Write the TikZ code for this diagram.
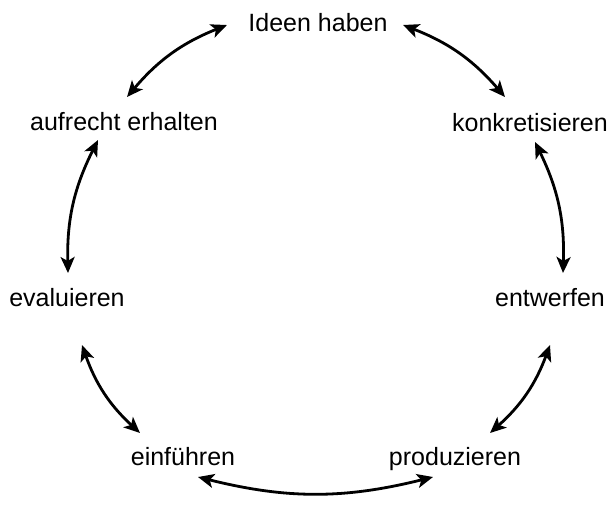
\documentclass[tikz,border=0pt]{standalone}
\usepackage{fontspec}
\setmainfont{Liberation Sans}
\usetikzlibrary{arrows.meta,calc}
\begin{document}
\begin{tikzpicture}[x=1pt,y=-1pt,
  lbl/.style={anchor=base,inner sep=0pt,font=\fontsize{25}{30}\selectfont},
  tipx/.tip={Stealth[length=16pt,width=14pt,inset=4pt]},
  arr/.style={line width=2.8pt,tipx-tipx,bend left=14}]
\useasboundingbox (0,0) rectangle (612,506);
\node[lbl] (ideen) at (318,31) {Ideen haben};
\node[lbl] (konk) at (530,131) {konkretisieren};
\node[lbl] (entw) at (550,306.5) {entwerfen};
\node[lbl] (prod) at (455,465) {produzieren};
\node[lbl] (einf) at (183,465) {einführen};
\node[lbl] (eval) at (67,306) {evaluieren};
\node[lbl] (aufr) at (124,130.5) {aufrecht erhalten};
\draw[arr] ($(ideen.base)+(85,-6)$) to ($(konk.base)+(-25,-34)$);
\draw[arr] ($(konk.base)+(5,11)$) to ($(entw.base)+(13,-33.5)$);
\draw[arr] ($(entw.base)+(0,38.5)$) to ($(prod.base)+(35,-32)$);
\draw[arr] ($(prod.base)+(-22,12)$) to ($(einf.base)+(15,12)$);
\draw[arr] ($(einf.base)+(-43,-32)$) to ($(eval.base)+(15,39)$);
\draw[arr] ($(eval.base)+(1,-33)$) to ($(aufr.base)+(-26,9.5)$);
\draw[arr] ($(aufr.base)+(3,-33.5)$) to ($(ideen.base)+(-91,-6)$);
\end{tikzpicture}
\end{document}
